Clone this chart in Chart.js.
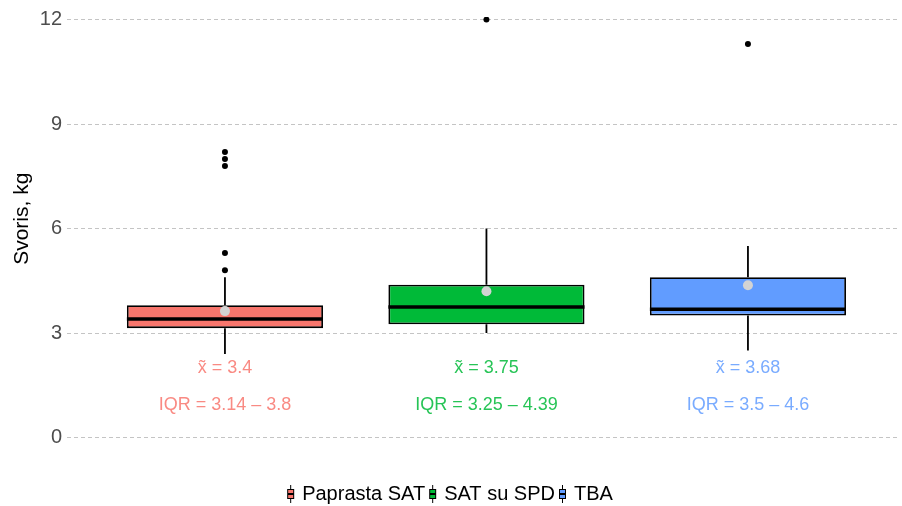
<!DOCTYPE html>
<html>
<head>
<meta charset="utf-8">
<script src="https://cdn.jsdelivr.net/npm/chart.js@4.4.0/dist/chart.umd.min.js"></script>
<style>
  html, body { margin: 0; padding: 0; background: #fff; }
  #wrap { width: 902px; height: 506px; }
</style>
</head>
<body>
<div id="wrap"><canvas id="chart"></canvas></div>
<script>
// five-number summaries per group
const groups = ['Paprasta SAT', 'SAT su SPD', 'TBA'];
const lowWhisker = [2.4, 3.0, 2.5];
const q1 = [3.14, 3.25, 3.5];
const medians = [3.4, 3.75, 3.68];
const q3 = [3.8, 4.39, 4.6];
const highWhisker = [4.6, 6.0, 5.5];
const means = [3.63, 4.2, 4.37];
const outliers = [[4.8, 5.3, 7.8, 8.0, 8.2], [12.0], [11.3]];
const yTicks = [0, 3, 6, 9, 12];
// y levels of the median / IQR text rows under the boxes
const labelRows = [2, 0.92];

const fills = ['#F8766D', '#00BA38', '#619CFF'];
const textColors = ['rgba(248,118,109,0.85)', 'rgba(0,186,56,0.85)', 'rgba(97,156,255,0.85)'];
const FONT = "'Liberation Sans', Arial, sans-serif";

// little boxplot glyphs for the legend
function legendGlyph(color) {
  const c = document.createElement('canvas');
  c.width = 9; c.height = 18;
  const g = c.getContext('2d');
  g.strokeStyle = '#000';
  g.lineWidth = 1;
  g.beginPath();
  g.moveTo(4.5, 0); g.lineTo(4.5, 4);
  g.moveTo(4.5, 14); g.lineTo(4.5, 18);
  g.stroke();
  g.fillStyle = color;
  g.fillRect(1, 4, 7, 10);
  g.strokeRect(1.5, 4.5, 6, 9);
  g.lineWidth = 2;
  g.beginPath(); g.moveTo(1, 9); g.lineTo(8, 9); g.stroke();
  return c;
}
const glyphs = fills.map(legendGlyph);

const boxParts = {
  id: 'boxParts',
  beforeDatasetDraw(chart, args) {
    if (args.meta.type !== 'bar') return;
    const {ctx, scales: {x, y}} = chart;
    ctx.save();
    ctx.strokeStyle = '#000';
    ctx.lineWidth = 1.8;
    groups.forEach((g, i) => {
      const px = x.getPixelForValue(i + 1);
      ctx.beginPath();
      ctx.moveTo(px, y.getPixelForValue(lowWhisker[i]));
      ctx.lineTo(px, y.getPixelForValue(q1[i]));
      ctx.moveTo(px, y.getPixelForValue(q3[i]));
      ctx.lineTo(px, y.getPixelForValue(highWhisker[i]));
      ctx.stroke();
    });
    ctx.restore();
  },
  afterDatasetDraw(chart, args) {
    if (args.meta.type !== 'bar') return;
    const {ctx, scales: {y}} = chart;
    ctx.save();
    ctx.strokeStyle = '#000';
    ctx.lineWidth = 3.5;
    args.meta.data.forEach((bar, i) => {
      const {x, width} = bar.getProps(['x', 'width'], true);
      const py = y.getPixelForValue(medians[i]);
      ctx.beginPath();
      ctx.moveTo(x - width / 2, py);
      ctx.lineTo(x + width / 2, py);
      ctx.stroke();
    });
    ctx.restore();
  },
  afterDatasetsDraw(chart) {
    const {ctx, scales: {x, y}} = chart;
    ctx.save();
    ctx.font = '18px ' + FONT;
    ctx.textAlign = 'center';
    ctx.textBaseline = 'middle';
    groups.forEach((g, i) => {
      const px = x.getPixelForValue(i + 1);
      ctx.fillStyle = textColors[i];
      ctx.fillText('x\u0303 = ' + medians[i], px, y.getPixelForValue(labelRows[0]));
      ctx.fillText('IQR = ' + q1[i] + ' \u2013 ' + q3[i], px, y.getPixelForValue(labelRows[1]));
    });
    // axis title, centred between the canvas top and the zero line
    ctx.translate(22, y.getPixelForValue(0) / 2);
    ctx.rotate(-Math.PI / 2);
    ctx.fillStyle = '#000';
    ctx.font = '21px ' + FONT;
    ctx.fillText('Svoris, kg', 0, 0);
    ctx.restore();
  }
};

new Chart(document.getElementById('chart'), {
  type: 'bar',
  data: {
    datasets: [
      {
        type: 'scatter',
        label: 'mean',
        data: means.map((m, i) => ({x: i + 1, y: m})),
        pointRadius: 5,
        pointBackgroundColor: '#d3d3d3',
        pointBorderWidth: 0
      },
      {
        type: 'scatter',
        label: 'outliers',
        data: outliers.flatMap((vals, i) => vals.map(v => ({x: i + 1, y: v}))),
        pointRadius: 3,
        pointBackgroundColor: '#000',
        pointBorderWidth: 0
      },
      {
        type: 'bar',
        label: 'box',
        data: groups.map((g, i) => ({x: i + 1, y: [q1[i], q3[i]]})),
        backgroundColor: fills,
        borderColor: '#000',
        borderWidth: 1.8,
        borderSkipped: false,
        categoryPercentage: 0.75,
        barPercentage: 1
      }
    ]
  },
  options: {
    responsive: true,
    maintainAspectRatio: false,
    animation: false,
    layout: { padding: { top: 0, right: 0, bottom: -8, left: 0 } },
    scales: {
      x: {
        type: 'linear',
        min: 0.396,
        max: 3.57,
        offset: false,
        afterBuildTicks: s => { s.ticks = groups.map((g, i) => ({value: i + 1})); },
        ticks: { display: false },
        grid: { display: false },
        border: { display: false }
      },
      y: {
        min: -0.933,
        max: 12.075,
        afterBuildTicks: s => { s.ticks = yTicks.map(v => ({value: v})); },
        afterFit: s => { s.width = 67; },
        ticks: {
          color: '#4d4d4d',
          font: { family: FONT, size: 20 },
          padding: 5
        },
        grid: {
          color: '#c4c4c4',
          lineWidth: 1,
          drawTicks: false
        },
        border: { display: false, dash: [4, 3] }
      }
    },
    plugins: {
      legend: {
        position: 'bottom',
        labels: {
          usePointStyle: true,
          pointStyleWidth: 3,
          padding: 6,
          color: '#000',
          font: { family: FONT, size: 20 },
          generateLabels: () => groups.map((g, i) => ({
            text: g,
            pointStyle: glyphs[i],
            fillStyle: fills[i],
            strokeStyle: '#000',
            lineWidth: 0,
            hidden: false,
            datasetIndex: 2
          }))
        },
        onClick: null
      },
      tooltip: { enabled: false }
    }
  },
  plugins: [boxParts]
});
</script>
</body>
</html>
